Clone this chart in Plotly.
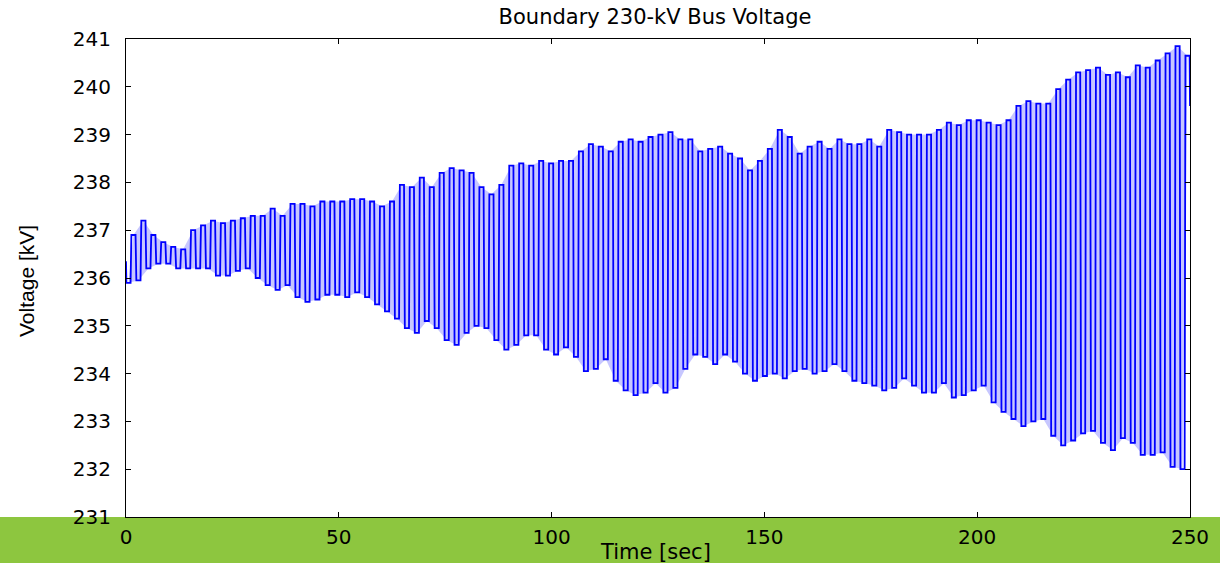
import plotly.graph_objects as go

# ---- data (per oscillation cycle) ----
cycle_period = 250.0 / 107  # seconds per oscillation cycle

upper_peaks = [
    236.9, 237.2, 236.9, 236.75, 236.65, 236.6, 237.0, 237.1, 237.2, 237.15,
    237.2, 237.25, 237.3, 237.3, 237.45, 237.3, 237.55, 237.55, 237.5, 237.6,
    237.6, 237.6, 237.65, 237.65, 237.6, 237.5, 237.6, 237.95, 237.9, 238.1,
    237.9, 238.2, 238.3, 238.25, 238.2, 237.9, 237.75, 237.95, 238.35, 238.4,
    238.35, 238.45, 238.4, 238.45, 238.45, 238.65, 238.8, 238.75, 238.65, 238.85,
    238.9, 238.85, 238.95, 239.0, 239.05, 238.9, 238.9, 238.65, 238.7, 238.75,
    238.6, 238.5, 238.25, 238.45, 238.7, 239.1, 238.95, 238.6, 238.75, 238.85,
    238.7, 238.9, 238.8, 238.8, 238.9, 238.75, 239.1, 239.05, 239.0, 239.0,
    239.0, 239.1, 239.25, 239.2, 239.3, 239.3, 239.25, 239.2, 239.3, 239.6,
    239.7, 239.65, 239.65, 239.95, 240.15, 240.3, 240.35, 240.4, 240.25, 240.3,
    240.2, 240.45, 240.4, 240.55, 240.7, 240.85, 240.65,
]

lower_troughs = [
    235.9, 235.95, 236.2, 236.3, 236.3, 236.2, 236.2, 236.2, 236.2, 236.05,
    236.05, 236.15, 236.2, 236.0, 235.85, 235.75, 235.85, 235.6, 235.5, 235.55,
    235.65, 235.65, 235.6, 235.7, 235.6, 235.45, 235.3, 235.15, 234.95, 234.85,
    235.1, 234.95, 234.7, 234.6, 234.85, 235.0, 234.95, 234.7, 234.5, 234.6,
    234.8, 234.8, 234.5, 234.4, 234.55, 234.35, 234.05, 234.1, 234.3, 233.85,
    233.65, 233.55, 233.6, 233.8, 233.6, 233.7, 234.1, 234.4, 234.35, 234.2,
    234.4, 234.25, 234.0, 233.85, 233.95, 234.0, 233.9, 234.05, 234.1, 234.0,
    234.05, 234.2, 234.05, 233.85, 233.8, 233.75, 233.65, 233.7, 233.9, 233.75,
    233.6, 233.6, 233.8, 233.5, 233.55, 233.65, 233.75, 233.4, 233.2, 233.05,
    232.9, 233.0, 233.05, 232.7, 232.5, 232.6, 232.75, 232.8, 232.55, 232.4,
    232.65, 232.55, 232.3, 232.3, 232.35, 232.05, 232.0,
]

start_value = 236.35
end_value = 239.6

x_ticks = [0, 50, 100, 150, 200, 250]
y_ticks = [231, 232, 233, 234, 235, 236, 237, 238, 239, 240, 241]

# ---- build the line through the cycles (near-vertical transitions) ----
P = cycle_period
t_vals = [0.0]
v_vals = [start_value]
for k, (hi, lo) in enumerate(zip(upper_peaks, lower_troughs)):
    t0 = k * P
    t_vals += [t0 + 0.04 * P, t0 + 0.46 * P, t0 + 0.54 * P, t0 + 0.96 * P]
    v_vals += [lo, lo, hi, hi]
t_vals.append(250.0)
v_vals.append(end_value)

# light band between the envelopes (the dense fill look of the original)
band_x = [k * P + 0.75 * P for k in range(len(upper_peaks))] + \
         [k * P + 0.25 * P for k in range(len(lower_troughs))][::-1]
band_y = list(upper_peaks) + list(lower_troughs)[::-1]

fig = go.Figure()
fig.add_trace(go.Scatter(
    x=band_x, y=band_y, mode="lines", fill="toself",
    fillcolor="rgba(90,90,255,0.34)", line=dict(width=0),
    hoverinfo="skip", showlegend=False,
))
fig.add_trace(go.Scatter(
    x=t_vals, y=v_vals, mode="lines",
    line=dict(color="#0000FF", width=1.8),
    hoverinfo="skip", showlegend=False,
))

W, H = 1220, 566
ml, mr, mt, mb = 126, 30, 39, 49
pw, ph = W - ml - mr, H - mt - mb

# green band behind the x tick labels
fig.add_shape(
    type="rect", xref="paper", yref="paper",
    x0=-ml / pw, x1=1 + mr / pw,
    y0=-(563 - 517) / ph, y1=0,
    fillcolor="#8DC63F", line=dict(width=0), layer="below",
)

axis_common = dict(
    showline=True, linecolor="black", linewidth=1, mirror="ticks",
    ticks="inside", ticklen=5, tickcolor="black", tickwidth=1,
    showgrid=False, zeroline=False,
    tickfont=dict(family="DejaVu Sans, Arial, sans-serif", size=20, color="black"),
)

fig.update_xaxes(range=[0, 250], tickvals=x_ticks, ticktext=[str(v) for v in x_ticks],
                 ticklabelstandoff=2, **axis_common)
fig.update_yaxes(range=[231, 241], tickvals=y_ticks, ticktext=[str(v) for v in y_ticks],
                 ticklabelstandoff=10, **axis_common)

fig.add_annotation(
    text="Voltage [kV]", textangle=-90, showarrow=False,
    xref="paper", yref="paper", x=(26 - ml) / pw, y=(H - mb - 281) / ph,
    xanchor="center", yanchor="middle",
    font=dict(family="Liberation Sans Narrow, Arial Narrow, Liberation Sans, sans-serif",
              size=21, color="black"),
)
fig.add_annotation(
    text="Time [sec]", showarrow=False,
    xref="paper", yref="paper", x=(655 - ml) / pw, y=-(552 - 517) / ph,
    xanchor="center", yanchor="middle",
    font=dict(family="DejaVu Sans, Arial, sans-serif", size=21, color="black"),
)

fig.update_layout(
    width=W, height=H,
    margin=dict(l=ml, r=mr, t=mt, b=mb, pad=0),
    paper_bgcolor="white", plot_bgcolor="white",
    title=dict(text="Boundary 230-kV Bus Voltage", x=655 / W, xanchor="center",
               y=1 - 17 / H, yanchor="middle",
               font=dict(family="DejaVu Sans, Arial, sans-serif", size=21, color="black")),
    showlegend=False,
)

fig.write_html("out.html")
